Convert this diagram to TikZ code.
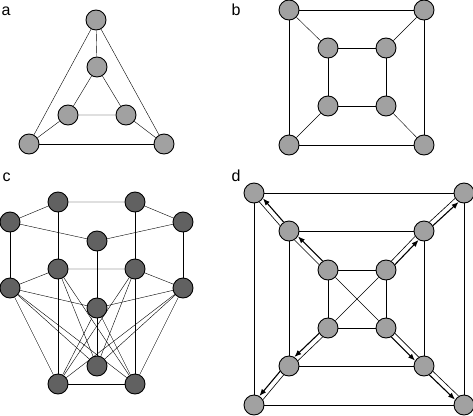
\documentclass[tikz,border=0pt]{standalone}
\usepackage{fontspec}
\setmainfont{Liberation Sans}
\usetikzlibrary{arrows.meta,backgrounds}
\definecolor{gris}{gray}{0.63}
\definecolor{grisfonce}{gray}{0.38}

\tikzset{
  sommet/.style={circle,draw,fill=gris,minimum size=20pt,inner sep=0pt,line width=0.9pt},
  sommetfonce/.style={sommet,fill=grisfonce},
  lettre/.style={anchor=base west,inner sep=0pt,font=\fontsize{16}{19}\selectfont},
  fleche/.style={line width=1.1pt,-{Latex[length=7pt,width=5.5pt]}},
  trait/.style={line width=0.6pt}
}

\begin{document}
\begin{tikzpicture}[x=1pt,y=-1pt,line width=1.2pt]
        \useasboundingbox (0,0) rectangle (473,415);

        % Figure a : les deux triangles
        \node[lettre] (la) at (1,15) {a};
        \node[sommet] (aH) at (96,20) {};
        \node[sommet] (aIH) at (97,67) {};
        \node[sommet] (aIG) at (68,115) {};
        \node[sommet] (aID) at (126,115) {};
        \node[sommet] (aG) at (29,144) {};
        \node[sommet] (aD) at (164,144) {};
        \begin{scope}[on background layer]
            \draw (aH) -- (aIH);
            \draw (aH) -- (aG);
            \draw (aH) -- (aD);
            \draw (aG) -- (aD);
            \draw (aIH) -- (aIG) -- (aID) -- (aIH);
            \draw (aIG) -- (aG);
            \draw (aID) -- (aD);
        \end{scope}

        % Figure b : le cube
        \node[lettre] (lb) at (231,15) {b};
        \node[sommet] (bHG) at (289,10) {};
        \node[sommet] (bHD) at (424,10) {};
        \node[sommet] (bBG) at (289,145) {};
        \node[sommet] (bBD) at (424,145) {};
        \node[sommet] (bIHG) at (328,48) {};
        \node[sommet] (bIHD) at (386,48) {};
        \node[sommet] (bIBG) at (328,106) {};
        \node[sommet] (bIBD) at (386,106) {};
        \begin{scope}[on background layer]
            \draw (bHG) -- (bHD) -- (bBD) -- (bBG) -- (bHG);
            \draw (bIHG) -- (bIHD) -- (bIBD) -- (bIBG) -- (bIHG);
            \draw (bHG) -- (bIHG);
            \draw (bHD) -- (bIHD);
            \draw (bBG) -- (bIBG);
            \draw (bBD) -- (bIBD);
        \end{scope}

        % Figure c : prisme pentagonal et trois sommets
        \node[lettre] (lc) at (2,181) {c};
        \node[sommetfonce] (cTG) at (10,222) {};
        \node[sommetfonce] (cTAG) at (58,202) {};
        \node[sommetfonce] (cTAD) at (135,202) {};
        \node[sommetfonce] (cTD) at (183,222) {};
        \node[sommetfonce] (cTC) at (97,241) {};
        \node[sommetfonce] (cMG) at (10,288) {};
        \node[sommetfonce] (cMAG) at (58,269) {};
        \node[sommetfonce] (cMAD) at (135,269) {};
        \node[sommetfonce] (cMD) at (183,288) {};
        \node[sommetfonce] (cMC) at (97,308) {};
        \node[sommetfonce] (cBC) at (97,366) {};
        \node[sommetfonce] (cBG) at (58,384) {};
        \node[sommetfonce] (cBD) at (135,384) {};
        \begin{scope}[on background layer]
            \draw (cTG) -- (cTAG) -- (cTAD) -- (cTD) -- (cTC) -- (cTG);
            \draw (cMG) -- (cMAG) -- (cMAD) -- (cMD) -- (cMC) -- (cMG);
            \draw (cTG) -- (cMG);
            \draw (cTAG) -- (cMAG);
            \draw (cTAD) -- (cMAD);
            \draw (cTD) -- (cMD);
            \draw (cTC) -- (cMC);
            \draw (cBG) -- (cBD);
            \foreach \m in {cMG,cMAG,cMC,cMAD,cMD}
                \foreach \b in {cBG,cBC,cBD}
                    \draw (\m) -- (\b);
        \end{scope}

        % Figure d : trois carres emboites
        \node[lettre] (ld) at (231,181) {d};
        \node[sommet] (dOHG) at (254,193) {};
        \node[sommet] (dOHD) at (464,193) {};
        \node[sommet] (dOBG) at (254,405) {};
        \node[sommet] (dOBD) at (464,405) {};
        \node[sommet] (dMHG) at (289,231) {};
        \node[sommet] (dMHD) at (424,231) {};
        \node[sommet] (dMBG) at (289,366) {};
        \node[sommet] (dMBD) at (424,366) {};
        \node[sommet] (dIHG) at (328,270) {};
        \node[sommet] (dIHD) at (386,270) {};
        \node[sommet] (dIBG) at (328,328) {};
        \node[sommet] (dIBD) at (386,328) {};
        \begin{scope}[on background layer]
            \draw (dOHG) -- (dOHD) -- (dOBD) -- (dOBG) -- (dOHG);
            \draw (dMHG) -- (dMHD) -- (dMBD) -- (dMBG) -- (dMHG);
            \draw (dIHG) -- (dIHD) -- (dIBD) -- (dIBG) -- (dIHG);
            \draw (dIHG) -- (dIBD);
            \draw (dIHD) -- (dIBG);
        \end{scope}

        % Doubles traits avec fleches vers l'exterieur
        \draw[fleche] (dIHG.121) -- (dMHG.329);
        \draw[trait] (dIHG.149) -- (dMHG.301);
        \draw[fleche] (dMHG.121) -- (dOHG.329);
        \draw[trait] (dMHG.149) -- (dOHG.301);
        \draw[fleche] (dIHD.31) -- (dMHD.239);
        \draw[trait] (dIHD.59) -- (dMHD.211);
        \draw[fleche] (dMHD.31) -- (dOHD.239);
        \draw[trait] (dMHD.59) -- (dOHD.211);
        \draw[fleche] (dIBG.211) -- (dMBG.59);
        \draw[trait] (dIBG.239) -- (dMBG.31);
        \draw[fleche] (dMBG.211) -- (dOBG.59);
        \draw[trait] (dMBG.239) -- (dOBG.31);
        \draw[fleche] (dIBD.301) -- (dMBD.149);
        \draw[trait] (dIBD.329) -- (dMBD.121);
        \draw[fleche] (dMBD.301) -- (dOBD.149);
        \draw[trait] (dMBD.329) -- (dOBD.121);
\end{tikzpicture}
\end{document}
